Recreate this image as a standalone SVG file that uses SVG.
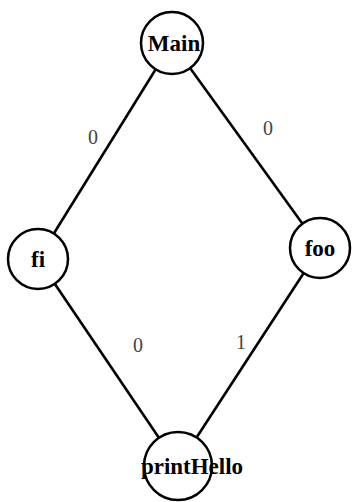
<svg xmlns="http://www.w3.org/2000/svg" width="361" height="502" viewBox="0 0 361 502">
<style>
.node circle{fill:#fff;stroke:#000;stroke-width:2.5}
.node text{font-family:"Liberation Serif",serif;font-weight:bold;font-size:23px;text-anchor:middle;fill:#000}
.edge line{stroke:#000;stroke-width:2.6}
.lbl{font-family:"Liberation Serif",serif;font-size:20px;fill:#444;text-anchor:middle}
</style>
<rect width="361" height="502" fill="#fff"/>
<g id="connectors" class="edge">
<line x1="172" y1="43" x2="38" y2="259"/>
<line x1="172" y1="43" x2="320" y2="248"/>
<line x1="38" y1="259" x2="178" y2="466"/>
<line x1="320" y1="248" x2="178" y2="466"/>
<text class="lbl" x="93" y="144">0</text>
<text class="lbl" x="268" y="135">0</text>
<text class="lbl" x="138" y="352">0</text>
<text class="lbl" x="241" y="349">1</text>
</g>
<g id="Main" class="node"><circle cx="172" cy="43" r="31"/><text x="174" y="51">Main</text></g>
<g id="fi" class="node"><circle cx="38" cy="259" r="30"/><text x="38" y="267">fi</text></g>
<g id="foo" class="node"><circle cx="320" cy="248" r="30"/><text x="320" y="256">foo</text></g>
<g id="printHello" class="node"><circle cx="178" cy="466" r="34"/><text x="192" y="474">printHello</text></g>
</svg>
